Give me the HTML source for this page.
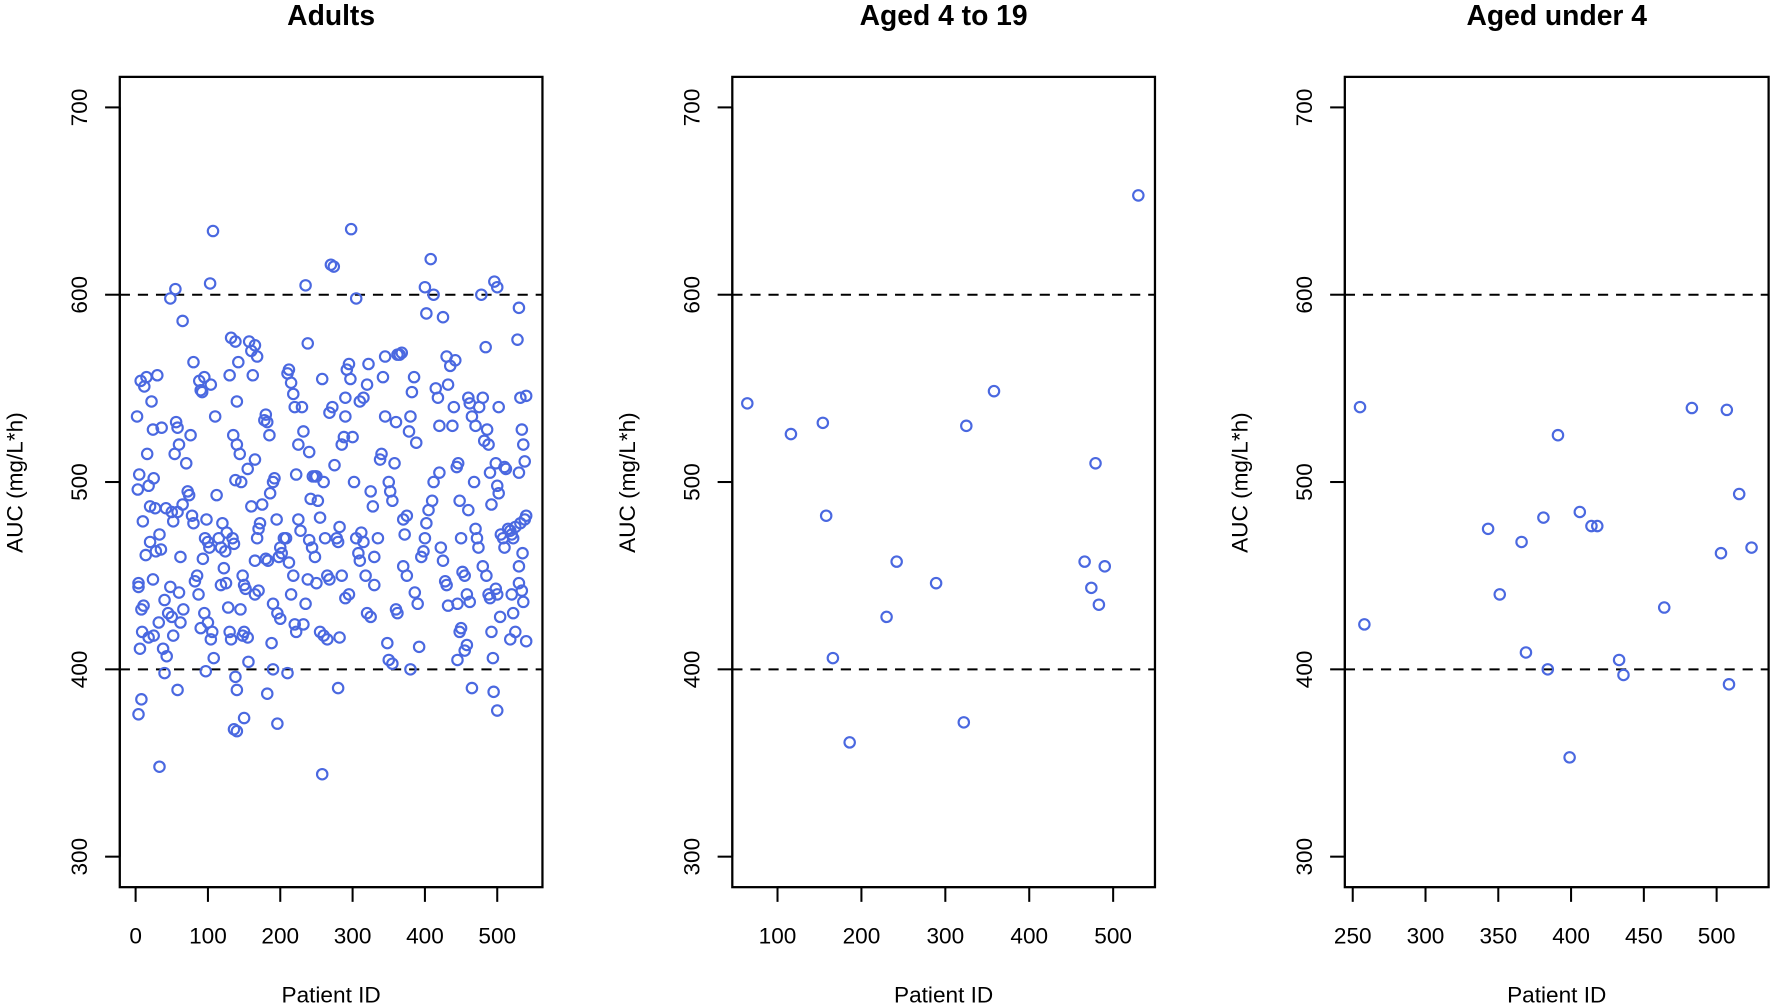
<!DOCTYPE html>
<html><head><meta charset="utf-8"><style>
html,body{margin:0;padding:0;background:#fff;}
svg{display:block;font-family:"Liberation Sans",sans-serif;}
</style></head><body>
<svg id="chart" width="1772" height="1007" viewBox="0 0 1568 891" xmlns="http://www.w3.org/2000/svg"></svg>
<script>
const yTicks=[300,400,500,600,700];
const refLines=[400,600];
const adultsData=[[2,535],[5,504],[3,496],[4,446],[4,444],[7,554],[12,551],[15,556],[8,432],[10,479],[14,461],[18,498],[20,487],[6,411],[9,420],[11,434],[4,376],[8,384],[16,515],[22,543],[24,528],[25,502],[27,486],[20,468],[24,448],[28,463],[30,557],[35,464],[33,472],[18,417],[25,418],[32,425],[33,348],[38,411],[40,398],[43,407],[40,437],[45,430],[48,444],[50,428],[52,418],[36,529],[42,486],[48,598],[55,603],[56,532],[58,529],[54,515],[60,520],[50,484],[58,484],[62,460],[65,488],[65,586],[60,441],[62,425],[66,432],[58,389],[52,479],[70,510],[72,495],[74,493],[76,525],[78,482],[80,478],[82,447],[85,450],[80,564],[88,554],[90,549],[92,548],[95,556],[98,480],[96,470],[100,468],[102,465],[93,459],[87,440],[90,422],[95,430],[100,425],[104,416],[106,420],[108,406],[97,399],[103,606],[107,634],[104,552],[110,535],[112,493],[115,470],[118,465],[120,478],[122,454],[124,463],[126,473],[125,446],[118,445],[128,433],[130,420],[132,416],[134,470],[136,467],[138,501],[135,525],[130,557],[132,577],[138,575],[140,543],[142,564],[140,520],[144,515],[146,500],[148,450],[150,445],[152,443],[145,432],[148,418],[150,420],[155,417],[156,404],[138,396],[140,389],[136,368],[140,367],[150,374],[155,507],[157,575],[160,570],[162,557],[165,573],[168,567],[165,512],[160,487],[168,470],[170,475],[172,478],[165,458],[165,440],[170,442],[175,488],[178,533],[180,536],[182,532],[185,525],[180,459],[183,458],[186,494],[190,500],[192,502],[195,480],[198,460],[200,465],[202,462],[190,435],[196,430],[200,427],[188,414],[182,387],[190,400],[196,371],[205,470],[208,470],[210,558],[212,560],[215,553],[218,547],[220,540],[222,504],[225,480],[228,474],[212,457],[215,440],[218,450],[220,424],[222,420],[225,520],[230,540],[232,527],[235,605],[238,574],[240,516],[242,491],[245,503],[248,503],[250,503],[252,490],[240,469],[244,465],[248,460],[250,446],[238,448],[232,424],[235,435],[210,398],[255,481],[258,555],[260,500],[262,470],[265,450],[268,448],[255,420],[260,418],[265,416],[258,344],[270,616],[274,615],[268,537],[272,540],[275,509],[278,470],[280,468],[282,476],[285,520],[288,524],[290,535],[292,560],[295,563],[297,555],[290,545],[285,450],[290,438],[295,440],[282,417],[280,390],[298,635],[300,524],[302,500],[305,470],[308,462],[310,458],[312,473],[315,468],[318,450],[305,598],[310,543],[315,545],[320,552],[322,563],[325,495],[328,487],[320,430],[325,428],[330,445],[335,470],[338,512],[340,515],[342,556],[345,567],[330,460],[350,500],[352,495],[355,490],[358,510],[360,532],[345,535],[362,568],[365,568],[368,569],[348,414],[350,405],[355,403],[360,432],[362,430],[370,480],[372,472],[375,482],[378,527],[380,535],[382,548],[385,556],[388,521],[370,455],[375,450],[380,400],[386,441],[390,435],[392,412],[395,460],[398,463],[400,470],[402,478],[405,485],[400,604],[402,590],[408,619],[412,600],[415,550],[418,545],[420,530],[410,490],[412,500],[420,505],[422,465],[425,458],[428,447],[430,445],[432,434],[425,588],[430,567],[432,552],[435,562],[438,530],[440,540],[442,565],[444,508],[446,510],[448,490],[450,470],[452,452],[455,450],[445,435],[448,420],[450,422],[445,405],[455,410],[458,413],[460,545],[462,542],[465,535],[468,500],[470,475],[472,470],[474,465],[460,485],[458,440],[462,436],[465,390],[470,530],[475,540],[478,600],[480,545],[482,522],[484,572],[486,528],[488,520],[490,505],[492,488],[480,455],[485,450],[488,440],[490,438],[492,420],[494,406],[496,607],[500,604],[502,540],[498,510],[500,498],[502,494],[505,472],[508,470],[510,465],[498,443],[500,440],[504,428],[495,388],[500,378],[510,508],[512,507],[515,475],[518,474],[520,472],[522,470],[525,476],[520,440],[522,430],[518,416],[528,576],[530,593],[532,545],[534,528],[536,520],[530,505],[532,478],[535,462],[538,480],[540,482],[530,446],[534,442],[536,436],[538,511],[540,546],[540,415],[530,455],[525,420]];
const teenIds=[64,116,154,158,166,186,230,242,289,322,325,358,466,474,479,483,490,530];
const teenAuc=[542,525.6,531.6,482,406,361,428,457.5,446,371.7,530,548.5,457.5,443.5,510,434.5,455,653];
const infantIds=[255,258,343,351,366,369,381,384,391,399,406,414,418,433,436,464,483,503,507,508.5,515.5,524];
const infantAuc=[540,424,475,440,468,409,481,400,525,353,484,476.5,476.5,405,397,433,539.5,462,538.5,392,493.6,465];
const panels=[
 {name:'adults',title:'Adults',left:106,right:480,x0:0,x1:500,px0:120,px1:440,ticks:[0,100,200,300,400,500],ids:adultsData.map(d=>d[0]),auc:adultsData.map(d=>d[1])},
 {name:'aged-4-to-19',title:'Aged 4 to 19',left:648,right:1022,x0:100,x1:500,px0:688,px1:985,ticks:[100,200,300,400,500],ids:teenIds,auc:teenAuc},
 {name:'aged-under-4',title:'Aged under 4',left:1190,right:1565,x0:250,x1:500,px0:1197,px1:1519,ticks:[250,300,350,400,450,500],ids:infantIds,auc:infantAuc}
];
const NS='http://www.w3.org/2000/svg';
const svg=document.getElementById('chart');
const TOP=68,BOT=785;
function yS(v){return 95+(700-v)*(758-95)/400;}
function mk(tag,attrs,parent){const e=document.createElementNS(NS,tag);for(const k in attrs)e.setAttribute(k,attrs[k]);(parent||svg).appendChild(e);return e;}
panels.forEach(p=>{
 const xS=v=>p.px0+(v-p.x0)*(p.px1-p.px0)/(p.x1-p.x0);
 const g=mk('g',{});
 
 
 const cx=(p.left+p.right)/2;
 const t=mk('text',{x:cx,y:22,'text-anchor':'middle','font-size':25,'font-weight':'bold'},g);t.textContent=p.title;
 
 
 refLines.forEach(v=>{const l=mk('line',{x1:p.left,x2:p.right,y1:yS(v),y2:yS(v),stroke:'#000','stroke-width':1.8,'stroke-dasharray':'9 7'},g);
  
  });
 p.ids.forEach((id,i)=>{const c=mk('circle',{cx:xS(id),cy:yS(p.auc[i]),r:4.6,fill:'none',stroke:'#4a68e0','stroke-width':1.9},g);
  
  });
 const b=mk('rect',{x:p.left,y:TOP,width:p.right-p.left,height:BOT-TOP,fill:'none',stroke:'#000','stroke-width':2},g);
 
 
 mk('line',{x1:p.left,x2:p.left,y1:yS(700),y2:yS(300),stroke:'#000','stroke-width':1.8},g);
 yTicks.forEach(v=>{mk('line',{x1:p.left-13,x2:p.left,y1:yS(v),y2:yS(v),stroke:'#000','stroke-width':1.8},g);
  const tx=p.left-29;const lt=mk('text',{x:tx,y:yS(v),'text-anchor':'middle','font-size':20,transform:`rotate(-90 ${tx} ${yS(v)})`},g);lt.textContent=v;
  
  });
 mk('line',{x1:xS(p.ticks[0]),x2:xS(p.ticks[p.ticks.length-1]),y1:BOT,y2:BOT,stroke:'#000','stroke-width':1.8},g);
 p.ticks.forEach(v=>{mk('line',{x1:xS(v),x2:xS(v),y1:BOT,y2:BOT+13,stroke:'#000','stroke-width':1.8},g);
  const lt=mk('text',{x:xS(v),y:835,'text-anchor':'middle','font-size':20},g);lt.textContent=v;
  
  });
 const xl=mk('text',{x:cx,y:887,'text-anchor':'middle','font-size':20},g);xl.textContent='Patient ID';
 
 
 const yx=p.left-86;
 const yl=mk('text',{x:yx,y:427,'text-anchor':'middle','font-size':20,transform:`rotate(-90 ${yx} 427)`},g);yl.textContent='AUC (mg/L*h)';
 
 
});
</script>
</body></html>
